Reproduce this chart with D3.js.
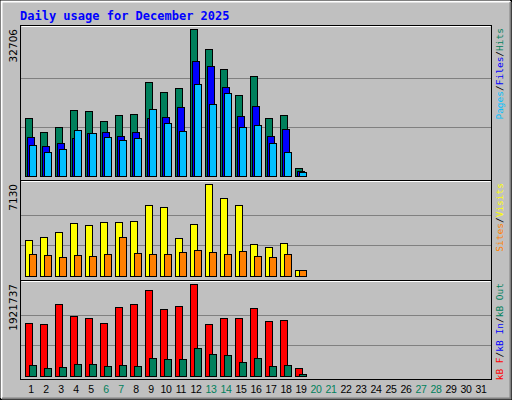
<!DOCTYPE html>
<html>
<head>
<meta charset="utf-8">
<script src="https://cdn.jsdelivr.net/npm/d3@7"></script>
<style>
body { margin: 0; background: #fff; }
svg { display: block; }
</style>
</head>
<body>
<div id="chart"></div>
<script>
const days = d3.range(1, 32)
const weekends = [6, 7, 13, 14, 20, 21, 27, 28]
const hits   = [12860, 9740, 10860, 14650, 14430, 12200, 13530, 13760, 20890, 18660, 19550, 32706, 28250, 23790, 17990, 22230, 12860, 13530, 1720]
const files  = [8630, 6620, 7290, 8410, 9520, 9740, 8850, 9740, 12860, 13090, 15320, 25580, 24460, 19780, 13310, 15540, 8850, 10410, 1180]
const pages  = [6840, 5280, 5950, 10190, 9520, 8630, 7960, 8410, 14870, 11750, 9970, 20440, 15990, 18440, 10860, 11300, 7290, 5280, 960]
const visits = [2790, 3020, 3410, 4110, 3950, 4190, 4190, 4260, 5500, 5350, 2950, 4030, 7130, 6050, 5500, 2480, 2250, 2560, 470]
const sites  = [1700, 1630, 1470, 1630, 1550, 1700, 3020, 1780, 1700, 1700, 1860, 2010, 1860, 1700, 1940, 1550, 1470, 1700, 470]
const kbF    = [1101800, 1080700, 1501300, 1248900, 1206900, 1101800, 1438200, 1501300, 1795600, 1396100, 1459200, 1921737, 1080700, 1206900, 1206900, 1417200, 1143800, 1164800, 176600]
const kbOut  = [239700, 176600, 197600, 260700, 260700, 218700, 239700, 218700, 365900, 344800, 344800, 576100, 450000, 428900, 302800, 378500, 218700, 239700, 50500]

const W = 512, H = 400
const left = 20, right = 491
const svg = d3.select("#chart").append("svg").attr("width", W).attr("height", H)

// background + bevel
svg.append("rect").attr("width", W).attr("height", H).attr("fill", "#c0c0c0")
svg.append("rect").attr("x", 0.5).attr("y", 0.5).attr("width", W - 1).attr("height", H - 1)
  .attr("fill", "none").attr("stroke", "#000")
svg.append("path").attr("d", `M1.5,${H-2}V1.5H${W-2}`).attr("stroke", "#fff").attr("stroke-width", 2).attr("fill", "none")
svg.append("path").attr("d", `M2,${H-1.5}H${W-1.5}V2`).attr("stroke", "#808080").attr("stroke-width", 2).attr("fill", "none")

svg.append("text").attr("x", 20).attr("y", 20)
  .attr("font-family", "DejaVu Sans Mono").attr("font-weight", "bold").attr("font-size", 12)
  .attr("fill", "#0000ff").text("Daily usage for December 2025")

const x = d3.scaleBand().domain(days).range([left, left + 31 * 15]).paddingInner(0)

const panels = [
  { top: 25, bottom: 180, base: 176, max: 32706,
    series: [{ v: hits, c: "#00805c", dx: 5 }, { v: files, c: "#0000ff", dx: 7 }, { v: pages, c: "#00c0ff", dx: 9 }],
    legend: [["Pages", "#00c0ff"], ["Files", "#0000ff"], ["Hits", "#00805c"]] },
  { top: 180, bottom: 280, base: 276, max: 7130,
    series: [{ v: visits, c: "#ffff00", dx: 5 }, { v: sites, c: "#ff8000", dx: 9 }],
    legend: [["Sites", "#ff8000"], ["Visits", "#ffff00"]] },
  { top: 280, bottom: 379, base: 376, max: 1921737,
    series: [{ v: kbF, c: "#ff0000", dx: 5 }, { v: kbOut, c: "#00805c", dx: 9 }],
    legend: [["kB F", "#ff0000"], ["kB In", "#0000ff"], ["kB Out", "#00805c"]] }
]

panels.forEach(p => {
  const y = d3.scaleLinear().domain([0, p.max]).range([p.base, p.top + 4])
  const g = svg.append("g")
  // grid lines
  ;[p.max / 3, p.max * 2 / 3].forEach(v => {
    g.append("line").attr("x1", left).attr("x2", right)
      .attr("y1", Math.round(y(v)) + 0.5).attr("y2", Math.round(y(v)) + 0.5)
      .attr("stroke", "#808080")
  })
  p.series.forEach(s => {
    g.selectAll(null).data(s.v).enter().append("rect")
      .attr("x", (d, i) => x(days[i]) + s.dx + 0.5)
      .attr("y", d => Math.round(y(d)) + 0.5)
      .attr("width", 7)
      .attr("height", d => p.base - Math.round(y(d)))
      .attr("fill", s.c).attr("stroke", "#000")
  })
  // panel frame
  g.append("rect").attr("x", left + 0.5).attr("y", p.top + 0.5)
    .attr("width", right - left).attr("height", p.bottom - p.top)
    .attr("fill", "none").attr("stroke", "#000")
  g.append("path").attr("d", `M${left + 1.5},${p.top + 1.5}H${right - 0.5}`).attr("stroke", "#fff")
  // max label
  svg.append("text").attr("transform", `translate(17,${p.top + 4}) rotate(-90)`)
    .attr("text-anchor", "end").attr("font-family", "DejaVu Sans").attr("font-size", 10.5)
    .attr("fill", "#000").text(p.max)
  // right legend
  const t = svg.append("text").attr("transform", `translate(503,${p.top + 3}) rotate(-90)`)
    .attr("text-anchor", "end").attr("font-family", "DejaVu Sans Mono").attr("font-size", 9.5)
  p.legend.forEach((l, i) => {
    if (i > 0) t.append("tspan").attr("fill", "#000").text("/")
    t.append("tspan").attr("fill", l[1]).text(l[0])
  })
})

// day labels
svg.selectAll(null).data(days).enter().append("text")
  .attr("x", d => x(d) + 11).attr("y", 393)
  .attr("text-anchor", "middle").attr("font-family", "Liberation Sans").attr("font-size", 10.5)
  .attr("letter-spacing", -0.3)
  .attr("fill", d => weekends.includes(d) ? "#00805c" : "#000")
  .text(d => d)
</script>
</body>
</html>
